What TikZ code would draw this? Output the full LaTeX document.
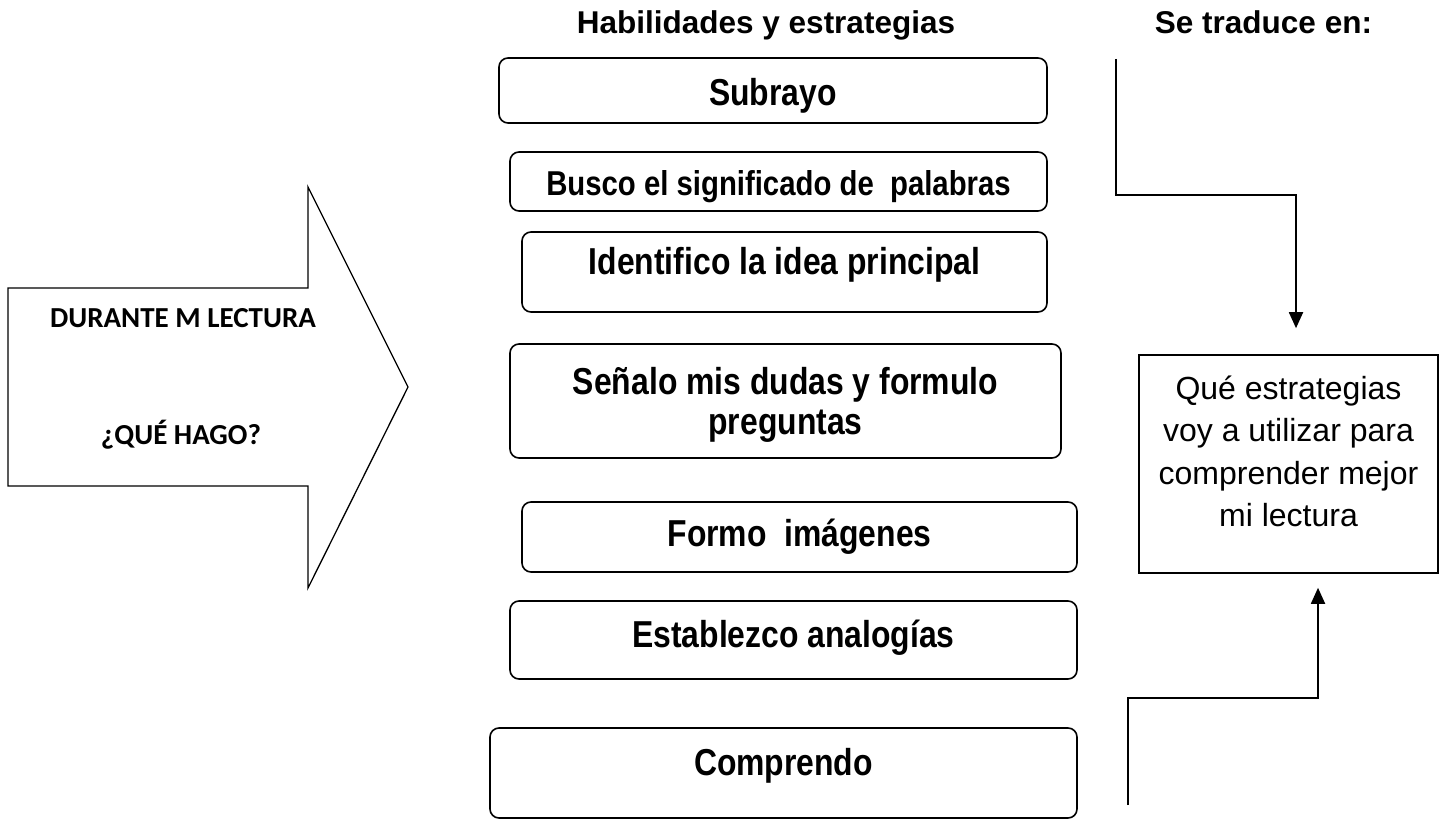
\documentclass[tikz,border=0pt]{standalone}
\usepackage{fontspec}
\setmainfont{Liberation Sans}
\newfontfamily\narrowsans{Liberation Sans}[FakeStretch=0.85]
\newfontfamily\calibrisub{Carlito}
\usetikzlibrary{arrows.meta}

\begin{document}
\begin{tikzpicture}[x=1pt,y=-1pt,
    block_strat/.style ={rectangle, draw=black, line width=1.6pt, rounded corners=9pt,
      fill=white, align=center, inner sep=0pt,
      font=\narrowsans\bfseries\fontsize{37.5}{40}\selectfont},
    block_result/.style ={rectangle, draw=black, line width=1.6pt, fill=white,
      align=center, minimum width=299pt, minimum height=218pt,
      font=\fontsize{32}{42.5}\selectfont},
    block_title/.style ={anchor=base, font=\bfseries\fontsize{31.5}{36}\selectfont},
    block_arrow/.style ={font=\calibrisub\bfseries\fontsize{29}{34}\selectfont},
    line/.style ={draw, line width=1.8pt, -{Triangle[width=14pt,length=16pt]}}]
    \useasboundingbox (0,0) rectangle (1440,821);
    % big arrow on the left
    \draw[line width=1.3pt] (8,288) -- (308,288) -- (308,187) -- (408,387)
      -- (308,588) -- (308,486) -- (8,486) -- cycle;
    \node [block_arrow] (during) at (183,318) {DURANTE M LECTURA};
    \node [block_arrow] (what_do) at (181,435) {¿QUÉ HAGO?};
    % column titles
    \node [block_title] (skills_title) at (766,34) {Habilidades y estrategias};
    \node [block_title] (result_title) at (1263.5,34) {Se traduce en:};
    % strategy boxes
    \node [block_strat, minimum width=548pt, minimum height=65pt, text height=37pt] (subrayo)
      at (773,90.5) {Subrayo};
    \node [block_strat, minimum width=537pt, minimum height=59pt, text height=35pt,
      font=\narrowsans\bfseries\fontsize{34.5}{40}\selectfont] (busco) at (778.5,181.5)
      {Busco el significado de\ \ palabras};
    \node [block_strat, minimum width=525pt, minimum height=80pt, text depth=22pt] (identifico)
      at (784.5,272) {Identifico la idea principal};
    \node [block_strat, minimum width=551pt, minimum height=114pt, text depth=0pt] (senalo)
      at (785.5,401) {Señalo mis dudas y formulo\\preguntas};
    \node [block_strat, minimum width=555pt, minimum height=70pt] (formo) at (799.5,537)
      {Formo\ \ imágenes};
    \node [block_strat, minimum width=567pt, minimum height=78pt, text depth=12pt] (establezco)
      at (793.5,640) {Establezco analogías};
    \node [block_strat, minimum width=587pt, minimum height=90pt, text depth=22pt] (comprendo)
      at (783.5,773) {Comprendo};
    % result box
    \node [block_result, text depth=26pt] (result) at (1288.5,464)
      {Qué estrategias\\voy a utilizar para\\comprender mejor\\mi lectura};
    % connecting lines
    \coordinate (top_start) at (1116,59);
    \coordinate (bottom_start) at (1128,805);
    \begin{scope}[every path/.style=line]
      \path (top_start) -- ++(0,136) -| ([xshift=7.5pt,yshift=26pt]result.north);
      \path (bottom_start) -- ++(0,-107) -| ([xshift=29.5pt,yshift=-14pt]result.south);
    \end{scope}
\end{tikzpicture}
\end{document}
